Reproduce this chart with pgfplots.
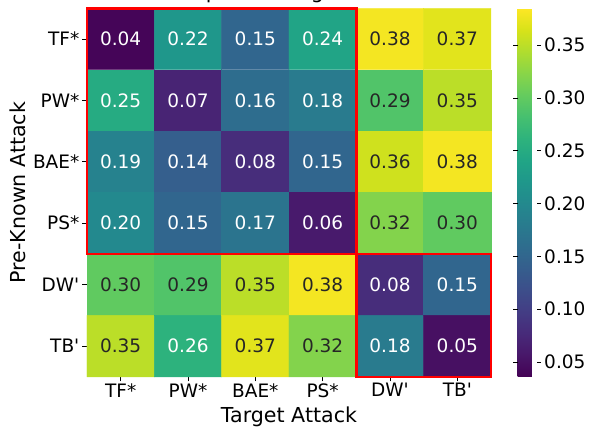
\documentclass[border=0pt]{standalone}
\usepackage{pgfplots}
\pgfplotsset{compat=1.18}
\usepackage{pgfplotstable}
\usepackage{fontspec}
\setmainfont{DejaVu Sans}
\pgfplotsset{/pgf/number format/assume math mode=true}
\definecolor{txtdark}{HTML}{262626}

\pgfplotstableread{
x y c
0 0 0.04
1 0 0.22
2 0 0.15
3 0 0.24
4 0 0.38
5 0 0.37
0 1 0.25
1 1 0.07
2 1 0.16
3 1 0.18
4 1 0.29
5 1 0.35
0 2 0.19
1 2 0.14
2 2 0.08
3 2 0.15
4 2 0.36
5 2 0.38
0 3 0.20
1 3 0.15
2 3 0.17
3 3 0.06
4 3 0.32
5 3 0.30
0 4 0.30
1 4 0.29
2 4 0.35
3 4 0.38
4 4 0.08
5 4 0.15
0 5 0.35
1 5 0.26
2 5 0.37
3 5 0.32
4 5 0.18
5 5 0.05
}\heat

\begin{document}
\begin{tikzpicture}
\begin{axis}[
  at={(0pt,0pt)}, anchor=south west,
  scale only axis,
  width=404pt, height=368.5pt,
  xmin=-0.5, xmax=5.5, ymin=-0.5, ymax=5.5,
  y dir=reverse,
  clip=false,
  colormap/viridis,
  point meta min=0.036, point meta max=0.385,
  xtick={0,1,2,3,4,5},
  xticklabels={TF*,PW*,BAE*,PS*,DW\textquotesingle,TB\textquotesingle},
  ytick={0,1,2,3,4,5},
  yticklabels={TF*,PW*,BAE*,PS*,DW\textquotesingle,TB\textquotesingle},
  axis x line*=bottom, axis y line*=left,
  axis line style={draw=none},
  tick align=outside,
  major tick length=4.5pt,
  tick style={black, line width=0.9pt},
  tick label style={font=\fontsize{18.5}{22}\selectfont, text=black},
  xticklabel style={inner sep=2pt},
  yticklabel style={inner sep=3pt},
  title={Heatmap of Average Coefficient},
  title style={at={(0.5,1)}, anchor=base, yshift=4pt, font=\fontsize{20.6}{24}\selectfont},
  xlabel={Target Attack},
  xlabel style={at={(0.5,0)}, anchor=base, yshift=-45.9pt, font=\fontsize{20.6}{24}\selectfont},
  ylabel={Pre-Known Attack},
  ylabel style={at={(-0.172,0.5)}, anchor=center, font=\fontsize{20.6}{24}\selectfont},
  colorbar,
  colorbar style={
    at={(parent axis.north east)}, anchor=north west, xshift=18pt,
    scale only axis,
    width=19pt, height=368.5pt,
    ytick={0.05,0.1,0.15,0.2,0.25,0.3,0.35},
    yticklabel style={/pgf/number format/.cd, fixed, fixed zerofill, precision=2, /tikz/.cd, font=\fontsize{18.5}{22}\selectfont, inner sep=3pt},
    axis line style={draw=none},
    tick align=outside,
    major tick length=4.5pt,
    tick style={black, line width=0.9pt},
  },
]
\addplot[matrix plot*, mesh/cols=6, mesh/rows=6, point meta=explicit, shader=flat corner]
  table[x=x, y=y, meta=c] {\heat};
\addplot[only marks, mark=*, mark size=0pt, mark options={draw=none, fill=none},
  point meta=explicit,
  nodes near coords={\pgfmathprintnumber[fixed,fixed zerofill,precision=2]{\pgfplotspointmeta}},
  nodes near coords style={anchor=center, text=white, font=\fontsize{18.5}{22}\selectfont}]
  table[x=x, y expr={\thisrow{c}<0.27 ? \thisrow{y} : nan}, meta=c] {\heat};
\addplot[only marks, mark=*, mark size=0pt, mark options={draw=none, fill=none},
  point meta=explicit,
  nodes near coords={\pgfmathprintnumber[fixed,fixed zerofill,precision=2]{\pgfplotspointmeta}},
  nodes near coords style={anchor=center, text=txtdark, font=\fontsize{18.5}{22}\selectfont}]
  table[x=x, y expr={\thisrow{c}>0.27 ? \thisrow{y} : nan}, meta=c] {\heat};
\draw[red, line width=2.5pt] (axis cs:-0.5,-0.5) rectangle (axis cs:3.5,3.5);
\draw[red, line width=2.5pt] (axis cs:3.5,3.5) rectangle (axis cs:5.5,5.5);
\end{axis}
\pgfresetboundingbox
\useasboundingbox (-87pt,-50.3pt) rectangle (505pt,376.8pt);
\end{tikzpicture}
\end{document}
